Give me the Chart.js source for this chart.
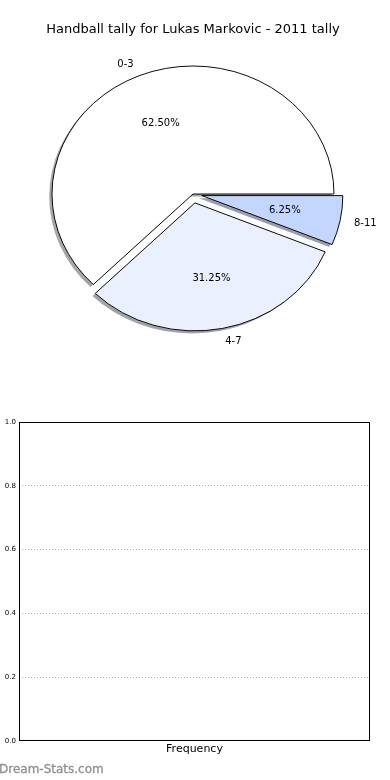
<!DOCTYPE html>
<html><head><meta charset="utf-8">
<script src="https://cdn.jsdelivr.net/npm/chart.js@4"></script>
<style>
html,body{margin:0;padding:0;background:#fff;width:390px;height:780px;overflow:hidden;position:relative}
#pie{position:absolute;left:0;top:0}
#bar{position:absolute;left:0;top:400px}
#wm{position:absolute;left:-1px;top:762px;font:12px 'DejaVu Sans',sans-serif;color:#8f8f8f;line-height:14px;white-space:nowrap;-webkit-text-stroke:0.3px #8f8f8f}
</style></head><body>
<canvas id="pie" width="390" height="400"></canvas>
<canvas id="bar" width="390" height="380"></canvas>
<div id="wm">Dream-Stats.com</div>
<script>
// ---- data ----
const chartTitle = 'Handball tally for Lukas Markovic - 2011 tally';
const categories = ['0-3', '4-7', '8-11'];
const counts = [10, 5, 1];
const sliceColors = ['#ffffff', '#eaf0ff', '#c2d6ff'];
const explodePx = [0, 10, 9];
const yTicks = [0.0, 0.2, 0.4, 0.6, 0.8, 1.0];
const barCategories = [];
const barValues = [];
const xTitle = 'Frequency';

Chart.defaults.font.family = "'DejaVu Sans', sans-serif";

// matplotlib draws counter-clockwise from east; Chart.js clockwise -> reverse order, start at east
const pieLabels = categories.slice().reverse();
const pieValues = counts.slice().reverse();
const pieColors = sliceColors.slice().reverse();
const pieExplode = explodePx.slice().reverse();
const total = counts.reduce((a, b) => a + b, 0);

const RX = 141, RY = 128, SY = RY / RX;

function geo(el) {
  const p = el.getProps(['x', 'y', 'startAngle', 'endAngle', 'outerRadius'], true);
  p.mid = (p.startAngle + p.endAngle) / 2;
  return p;
}
function shadowColor(hex) {
  const n = parseInt(hex.slice(1), 16);
  const r = Math.round(((n >> 16) & 255) * 0.3), g = Math.round(((n >> 8) & 255) * 0.3), b = Math.round((n & 255) * 0.3);
  return `rgba(${r},${g},${b},0.5)`;
}

const piePlugin = {
  id: 'piePlus',
  beforeDatasetsDraw(chart) {
    const ctx = chart.ctx;
    const meta = chart.getDatasetMeta(0);
    const g0 = geo(meta.data[0]);
    ctx.save();
    ctx.translate(g0.x, g0.y); ctx.scale(1, SY); ctx.translate(-g0.x, -g0.y);
    meta.data.forEach((el, i) => {
      const g = geo(el), ex = pieExplode[i];
      const dx = Math.cos(g.mid) * ex - 2.8, dy = Math.sin(g.mid) * ex + 2.8;
      ctx.beginPath();
      ctx.moveTo(g.x + dx, g.y + dy);
      ctx.arc(g.x + dx, g.y + dy, g.outerRadius, g.startAngle, g.endAngle);
      ctx.closePath();
      ctx.fillStyle = shadowColor(pieColors[i]);
      ctx.fill();
    });
  },
  beforeDatasetDraw(chart, args) {
    const ctx = chart.ctx;
    args.meta.data.forEach((el, i) => {
      const g = geo(el), ex = pieExplode[i];
      ctx.save();
      ctx.translate(Math.cos(g.mid) * ex, Math.sin(g.mid) * ex);
      el.draw(ctx);
      ctx.restore();
    });
    return false;
  },
  afterDatasetsDraw(chart) {
    const ctx = chart.ctx;
    ctx.restore();
    const meta = chart.getDatasetMeta(0);
    ctx.save();
    ctx.fillStyle = '#000';
    ctx.font = "10px 'DejaVu Sans', sans-serif";
    ctx.textBaseline = 'middle';
    meta.data.forEach((el, i) => {
      const g = geo(el), ex = pieExplode[i];
      const c = Math.cos(g.mid), s = Math.sin(g.mid);
      const lr = ex + 1.1 * g.outerRadius;
      ctx.textAlign = c > 0 ? 'left' : 'right';
      ctx.fillText(pieLabels[i], g.x + lr * c, g.y + lr * s * SY);
      const pr = ex + 0.6 * g.outerRadius;
      ctx.textAlign = 'center';
      ctx.fillText((pieValues[i] / total * 100).toFixed(2) + '%', g.x + pr * c, g.y + pr * s * SY);
    });
    ctx.restore();
  }
};

new Chart(document.getElementById('pie'), {
  type: 'pie',
  data: {
    labels: pieLabels,
    datasets: [{ data: pieValues, backgroundColor: pieColors, borderColor: '#000', borderWidth: 1, offset: 0, hoverOffset: 0 }]
  },
  options: {
    responsive: false, animation: false,
    rotation: 90,
    radius: RX,
    layout: { padding: { left: 0, right: 4, top: 0, bottom: 59.6 } },
    plugins: {
      legend: { display: false }, tooltip: { enabled: false },
      title: { display: true, text: chartTitle, color: '#000', font: { size: 13, weight: 'normal' }, padding: { top: 22, bottom: 10 } }
    }
  },
  plugins: [piePlugin]
});

const boxPlugin = {
  id: 'box',
  afterDraw(chart) {
    const { ctx, chartArea: a } = chart;
    ctx.save();
    ctx.strokeStyle = '#000'; ctx.lineWidth = 1;
    ctx.strokeRect(Math.round(a.left) + 0.5, Math.round(a.top) + 0.5, Math.round(a.right - a.left) - 1, Math.round(a.bottom - a.top) - 1);
    ctx.restore();
  }
};

new Chart(document.getElementById('bar'), {
  type: 'bar',
  data: { labels: barCategories, datasets: [{ label: xTitle, data: barValues, backgroundColor: '#c2d6ff' }] },
  options: {
    responsive: false, animation: false,
    layout: { padding: { top: 22, right: 20, bottom: 24, left: 0 } },
    plugins: { legend: { display: false }, tooltip: { enabled: false } },
    scales: {
      x: {
        grid: { display: false, drawTicks: false }, border: { display: false },
        ticks: { display: false },
        title: { display: true, text: xTitle, color: '#000', font: { size: 11 }, padding: { top: 2, bottom: 0 } }
      },
      y: {
        min: 0, max: 1,
        afterBuildTicks: s => { s.ticks = yTicks.map(v => ({ value: v })); },
        afterFit: s => { s.width = 19; },
        ticks: { callback: v => Number(v).toFixed(1), font: { size: 7 }, color: '#000', padding: 3 },
        grid: { color: '#b0b0b0', drawTicks: false, lineWidth: 1 },
        border: { display: false, dash: [1, 2] }
      }
    }
  },
  plugins: [boxPlugin]
});
</script>
</body></html>
